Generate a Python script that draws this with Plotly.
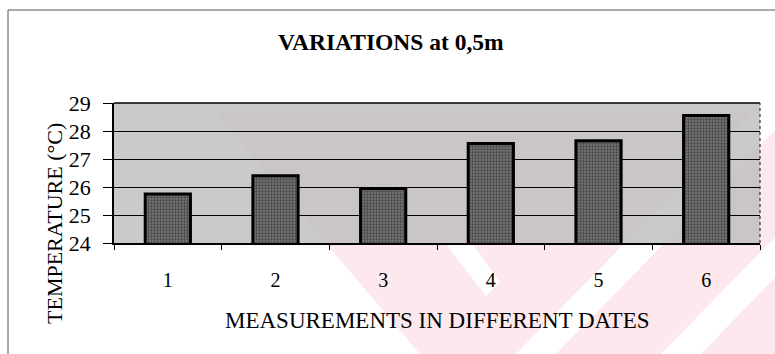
import plotly.graph_objects as go

# Measurement dates and mean temperatures at 0,5 m depth
dates = ["1", "2", "3", "4", "5", "6"]
temperature = [25.75, 26.4, 25.95, 27.55, 27.65, 28.55]
y_ticks = [24, 25, 26, 27, 28, 29]

W, H = 775, 354
L, R, T, B = 114, 15, 103, 111
PW, PH = W - L - R, H - T - B


def px(x):
    return (x - L) / PW


def py(y):
    return (H - B - y) / PH


SERIF = "Liberation Serif"
PINK = "rgb(252,232,237)"

fig = go.Figure()
fig.add_trace(go.Bar(
    x=dates, y=temperature, width=0.42,
    marker=dict(
        color="#666666",
        line=dict(color="black", width=3),
        pattern=dict(shape=".", fgcolor="#1a1a1a", bgcolor="#747474",
                     size=3, solidity=0.45),
    ),
    hoverinfo="skip",
))

shapes = []


def poly(points, color):
    d = "M " + " L ".join(f"{px(a):.4f},{py(b):.4f}" for a, b in points) + " Z"
    shapes.append(dict(type="path", path=d, xref="paper", yref="paper",
                       fillcolor=color, line=dict(width=0), layer="below"))


# faint diagonal watermark behind the chart
poly([(215, 112), (790, 112), (790, 360), (425, 360)], PINK)
poly([(510, 360), (550, 360), (790, 115), (790, 75)], "white")
poly([(655, 360), (695, 360), (790, 262), (790, 222)], "white")
poly([(445, 243), (472, 243), (500, 282), (486, 296)], "white")

# grey plot background, drawn over the watermark so it only tints through
shapes.append(dict(type="rect", xref="paper", yref="paper", x0=0, x1=1,
                   y0=0, y1=1, fillcolor="rgba(190,190,190,0.82)",
                   line=dict(width=0), layer="below"))

# outer frame of the figure
shapes.append(dict(type="line", xref="paper", yref="paper",
                   x0=px(8), x1=px(8), y0=py(10), y1=py(360),
                   line=dict(color="#555", width=1)))
shapes.append(dict(type="line", xref="paper", yref="paper",
                   x0=px(8), x1=px(790), y0=py(10), y1=py(10),
                   line=dict(color="#555", width=1)))
# plot area top and right edges
shapes.append(dict(type="line", xref="paper", yref="paper",
                   x0=0, x1=1, y0=1, y1=1, line=dict(color="black", width=1.5)))
shapes.append(dict(type="line", xref="paper", yref="paper",
                   x0=1, x1=1, y0=0, y1=1,
                   line=dict(color="#333", width=1.2, dash="dot")))


def label(text, x, y, size, angle=0):
    return dict(text=text, x=px(x), y=py(y), xref="paper", yref="paper",
                xanchor="center", yanchor="middle", textangle=angle,
                showarrow=False, font=dict(family=SERIF, size=size,
                                           color="black"))


annotations = [
    label("<b>VARIATIONS at 0,5m</b>", 391, 42, 23.5),
    label("MEASUREMENTS IN DIFFERENT DATES", 437, 320, 23),
    label("TEMPERATURE (°C)", 54, 224, 22, -90),
]

fig.update_layout(
    width=W, height=H,
    margin=dict(l=L, r=R, t=T, b=B, pad=0),
    paper_bgcolor="white",
    plot_bgcolor="rgba(0,0,0,0)",
    showlegend=False,
    shapes=shapes,
    annotations=annotations,
    font=dict(family=SERIF, color="black"),
)
fig.update_xaxes(
    type="category", tickson="boundaries", ticks="outside", ticklen=5,
    tickcolor="black", tickwidth=1, showline=True, linecolor="black",
    linewidth=1.5, showgrid=False, ticklabelstandoff=18,
    tickfont=dict(family=SERIF, size=20, color="black"),
)
fig.update_yaxes(
    range=[24, 29], tickvals=y_ticks, ticks="outside", ticklen=9,
    tickcolor="black", tickwidth=1, showline=True, linecolor="black",
    linewidth=1.5, showgrid=True, gridcolor="black", gridwidth=1,
    zeroline=False, ticklabelstandoff=8,
    tickfont=dict(family=SERIF, size=22, color="black"),
)

fig.write_html("out.html")
